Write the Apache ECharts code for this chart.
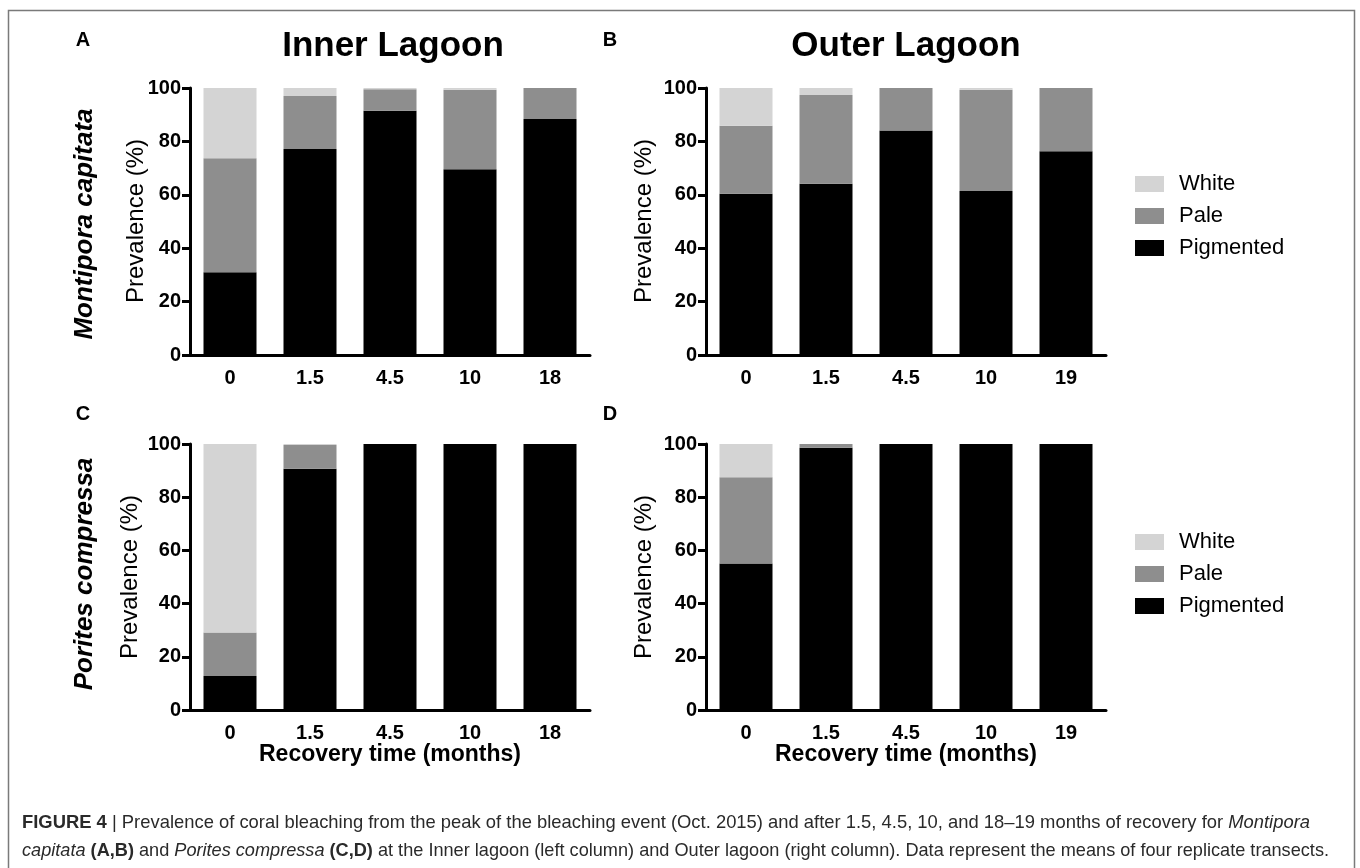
<!DOCTYPE html>
<html>
<head>
<meta charset="utf-8">
<script src="https://cdn.jsdelivr.net/npm/echarts@6/dist/echarts.min.js"></script>
<style>
html,body{margin:0;padding:0;background:#fff;}
#chart{width:1360px;height:868px;}
</style>
</head>
<body>
<div id="chart"></div>
<script>
// ---- data ----
var catsInner = ['0', '1.5', '4.5', '10', '18'];
var catsOuter = ['0', '1.5', '4.5', '10', '19'];
var seriesNames = ['Pigmented', 'Pale', 'White'];
var yTicks = [0, 20, 40, 60, 80, 100];

// Panel A: Montipora capitata, Inner Lagoon
var A_pigmented = [31.0, 77.2, 91.5, 69.6, 88.4];
var A_pale      = [42.7, 19.8, 8.0, 29.7, 11.6];
var A_white     = [26.3, 3.0, 0.5, 0.7, 0];
// Panel B: Montipora capitata, Outer Lagoon
var B_pigmented = [60.4, 64.1, 84.1, 61.4, 76.3];
var B_pale      = [25.5, 33.3, 15.9, 37.9, 23.7];
var B_white     = [14.1, 2.6, 0, 0.7, 0];
// Panel C: Porites compressa, Inner Lagoon
var C_pigmented = [12.8, 90.7, 100, 100, 100];
var C_pale      = [16.3, 8.9, 0, 0, 0];
var C_white     = [70.9, 0.4, 0, 0, 0];
// Panel D: Porites compressa, Outer Lagoon
var D_pigmented = [55.1, 98.6, 100, 100, 100];
var D_pale      = [32.4, 1.4, 0, 0, 0];
var D_white     = [12.5, 0, 0, 0, 0];

var panels = [
  {cats: catsInner, data: [A_pigmented, A_pale, A_white]},
  {cats: catsOuter, data: [B_pigmented, B_pale, B_white]},
  {cats: catsInner, data: [C_pigmented, C_pale, C_white]},
  {cats: catsOuter, data: [D_pigmented, D_pale, D_white]}
];

// caption segments: [style, text]
var captionLine1 = [
  ['b', 'FIGURE 4'],
  ['n', ' | Prevalence of coral bleaching from the peak of the bleaching event (Oct. 2015) and after 1.5, 4.5, 10, and 18\u201319 months of recovery for '],
  ['i', 'Montipora']
];
var captionLine2 = [
  ['i', 'capitata'], ['n', ' '], ['b', '(A,B)'], ['n', ' and '], ['i', 'Porites compressa'], ['n', ' '],
  ['b', '(C,D)'],
  ['n', ' at the Inner lagoon (left column) and Outer lagoon (right column). Data represent the means of four replicate transects.']
];

// ---- styling ----
var FONT = '"Liberation Sans", Arial, Helvetica, sans-serif';
var colors = {Pigmented: '#000000', Pale: '#8e8e8e', White: '#d4d4d4'};
var gridPos = [
  {left: 190, top: 88, width: 400, height: 267},
  {left: 706, top: 88, width: 400, height: 267},
  {left: 190, top: 444, width: 400, height: 266},
  {left: 706, top: 444, width: 400, height: 266}
];

var chart = echarts.init(document.getElementById('chart'), null, {renderer: 'canvas'});

var grids = [], xAxes = [], yAxes = [], series = [];
panels.forEach(function (p, i) {
  grids.push(Object.assign({containLabel: false}, gridPos[i]));
  xAxes.push({
    type: 'category', gridIndex: i, data: p.cats,
    axisLine: {lineStyle: {color: '#000', width: 3}},
    axisTick: {alignWithLabel: true, length: 8, lineStyle: {color: '#000', width: 3}},
    axisLabel: {color: '#000', fontFamily: FONT, fontWeight: 'bold', fontSize: 20, margin: 13},
    splitLine: {show: false}
  });
  yAxes.push({
    type: 'value', gridIndex: i, min: yTicks[0], max: yTicks[yTicks.length - 1], interval: 20,
    axisLine: {show: true, lineStyle: {color: '#000', width: 3}},
    axisTick: {show: true, length: 8, lineStyle: {color: '#000', width: 3}},
    axisLabel: {color: '#000', fontFamily: FONT, fontWeight: 'bold', fontSize: 20, margin: 9},
    splitLine: {show: false}
  });
  seriesNames.forEach(function (name, k) {
    series.push({
      type: 'bar', name: name, xAxisIndex: i, yAxisIndex: i, stack: 'p' + i,
      data: p.data[k], barWidth: 53,
      itemStyle: {color: colors[name]},
      emphasis: {disabled: true},
      animation: false
    });
  });
});

function txt(x, y, text, size, weight, extra) {
  var o = {
    type: 'text', x: x, y: y, silent: true,
    style: {text: text, fill: '#000', align: 'center', verticalAlign: 'middle',
            font: (weight || 'normal') + ' ' + size + 'px ' + FONT}
  };
  if (extra) Object.assign(o, extra);
  return o;
}
var ROT = {rotation: Math.PI / 2};

// caption: Liberation Sans, horizontally condensed to the reference line length
var CAP_SIZE = 19;
var capFonts = {
  b: 'bold ' + CAP_SIZE + 'px ' + FONT,
  i: 'italic ' + CAP_SIZE + 'px ' + FONT,
  n: 'normal ' + CAP_SIZE + 'px ' + FONT
};
var measureCtx = document.createElement('canvas').getContext('2d');
function segWidth(segs) {
  var w = 0;
  segs.forEach(function (s) { measureCtx.font = capFonts[s[0]]; w += measureCtx.measureText(s[1]).width; });
  return w;
}
function capText(segs, x, y, targetRight) {
  var str = segs.map(function (s) { return '{' + s[0] + '|' + s[1] + '}'; }).join('');
  var w = segWidth(segs);
  var sx = (targetRight - x) / w;
  var rich = {};
  ['b', 'i', 'n'].forEach(function (k) {
    rich[k] = {font: capFonts[k], fill: '#2a2a2a'};
  });
  return {
    type: 'text', x: x, y: y, scaleX: sx, scaleY: 1, silent: true,
    style: {text: str, fill: '#2a2a2a', align: 'left', verticalAlign: 'middle', font: capFonts.n, rich: rich}
  };
}

var graphic = [
  {type: 'rect', silent: true, shape: {x: 8.5, y: 10.5, width: 1346, height: 900},
   style: {fill: 'none', stroke: '#7a7a7a', lineWidth: 1.5}},
  txt(83, 40, 'A', 20, 'bold'),
  txt(610, 40, 'B', 20, 'bold'),
  txt(83, 414, 'C', 20, 'bold'),
  txt(610, 414, 'D', 20, 'bold'),
  txt(393, 46, 'Inner Lagoon', 35, 'bold'),
  txt(906, 46, 'Outer Lagoon', 35, 'bold'),
  txt(85, 224, 'Montipora capitata', 26, 'italic bold', ROT),
  txt(85, 574, 'Porites compressa', 26, 'italic bold', ROT),
  txt(136, 221, 'Prevalence (%)', 24, 'normal', ROT),
  txt(644, 221, 'Prevalence (%)', 24, 'normal', ROT),
  txt(130, 577, 'Prevalence (%)', 24, 'normal', ROT),
  txt(644, 577, 'Prevalence (%)', 24, 'normal', ROT),
  txt(390, 755, 'Recovery time (months)', 23, 'bold'),
  txt(906, 755, 'Recovery time (months)', 23, 'bold'),
  capText(captionLine1, 22, 823, 1310),
  capText(captionLine2, 22, 851, 1329)
];

var legendCommon = {
  orient: 'vertical', itemWidth: 29, itemHeight: 16, itemGap: 10,
  data: ['White', 'Pale', 'Pigmented'],
  textStyle: {color: '#000', fontFamily: FONT, fontSize: 22, padding: [0, 0, 0, 10]},
  icon: 'rect', selectedMode: false, padding: 0
};

chart.setOption({
  backgroundColor: '#fff',
  animation: false,
  grid: grids,
  xAxis: xAxes,
  yAxis: yAxes,
  legend: [
    Object.assign({left: 1135, top: 173}, legendCommon),
    Object.assign({left: 1135, top: 531}, legendCommon)
  ],
  series: series,
  graphic: graphic
});
</script>
</body>
</html>
